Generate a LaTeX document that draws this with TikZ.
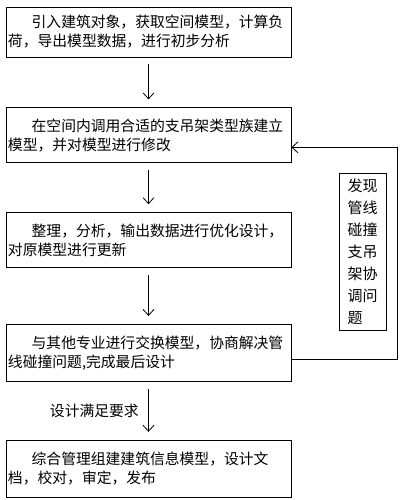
\documentclass[tikz,border=0pt]{standalone}
\usepackage{fontspec}
\setmainfont{Noto Sans CJK SC}
\usetikzlibrary{arrows.meta, positioning}

\begin{document}
\begin{tikzpicture}[
  x=1pt, y=1pt,
  box/.style={draw, thick, align=left, text width=281pt, inner xsep=2pt, minimum height=55pt, font=\fontsize{14.8}{19}\selectfont},
  sidebox/.style={draw, thick, align=left, text width=31pt, inner xsep=8pt, minimum height=157pt, font=\fontsize{15}{22}\selectfont},
  arrow/.style={-{Straight Barb[length=6pt, width=11pt]}, thick, shorten <=7pt, shorten >=8pt},
  back/.style={-{Straight Barb[length=6pt, width=11pt]}, thick},
]
\useasboundingbox (0,0) rectangle (401,-500);

% Nodes
\node (import)  [box, minimum height=50pt] at (148.5,-32) {\hspace*{1.6em}引入建筑对象，获取空间模型，计算负\\荷，导出模型数据，进行初步分析};
\node (build)   [box, below=50pt of import] {\hspace*{1.6em}在空间内调用合适的支吊架类型族建立\\模型，并对模型进行修改};
\node (optim)   [box, below=49pt of build] {\hspace*{1.6em}整理，分析，输出数据进行优化设计，\\对原模型进行更新};
\node (exch)    [box, below=56pt of optim, minimum height=57pt] {\hspace*{1.6em}与其他专业进行交换模型，协商解决管\\线碰撞问题,完成最后设计};
\node (publish) [box, below=58pt of exch, minimum height=57pt] {\hspace*{1.6em}综合管理组建建筑信息模型，设计文\\档，校对，审定，发布};
\node (clash)   [sidebox] at (363,-251.5) {发现\\管线\\碰撞\\支吊\\架协\\调问\\题};

% Arrows
\draw [arrow] (import) -- (build);
\draw [arrow] (build)  -- (optim);
\draw [arrow] (optim)  -- (exch);
\draw [arrow] (exch)   -- node[left, font=\fontsize{14.8}{19}\selectfont, xshift=-6pt] {设计满足要求} (publish);
\draw [back] ([yshift=-6pt]exch.east) -- ++(106,0) |- ([yshift=-12pt]build.east);

\end{tikzpicture}
\end{document}
